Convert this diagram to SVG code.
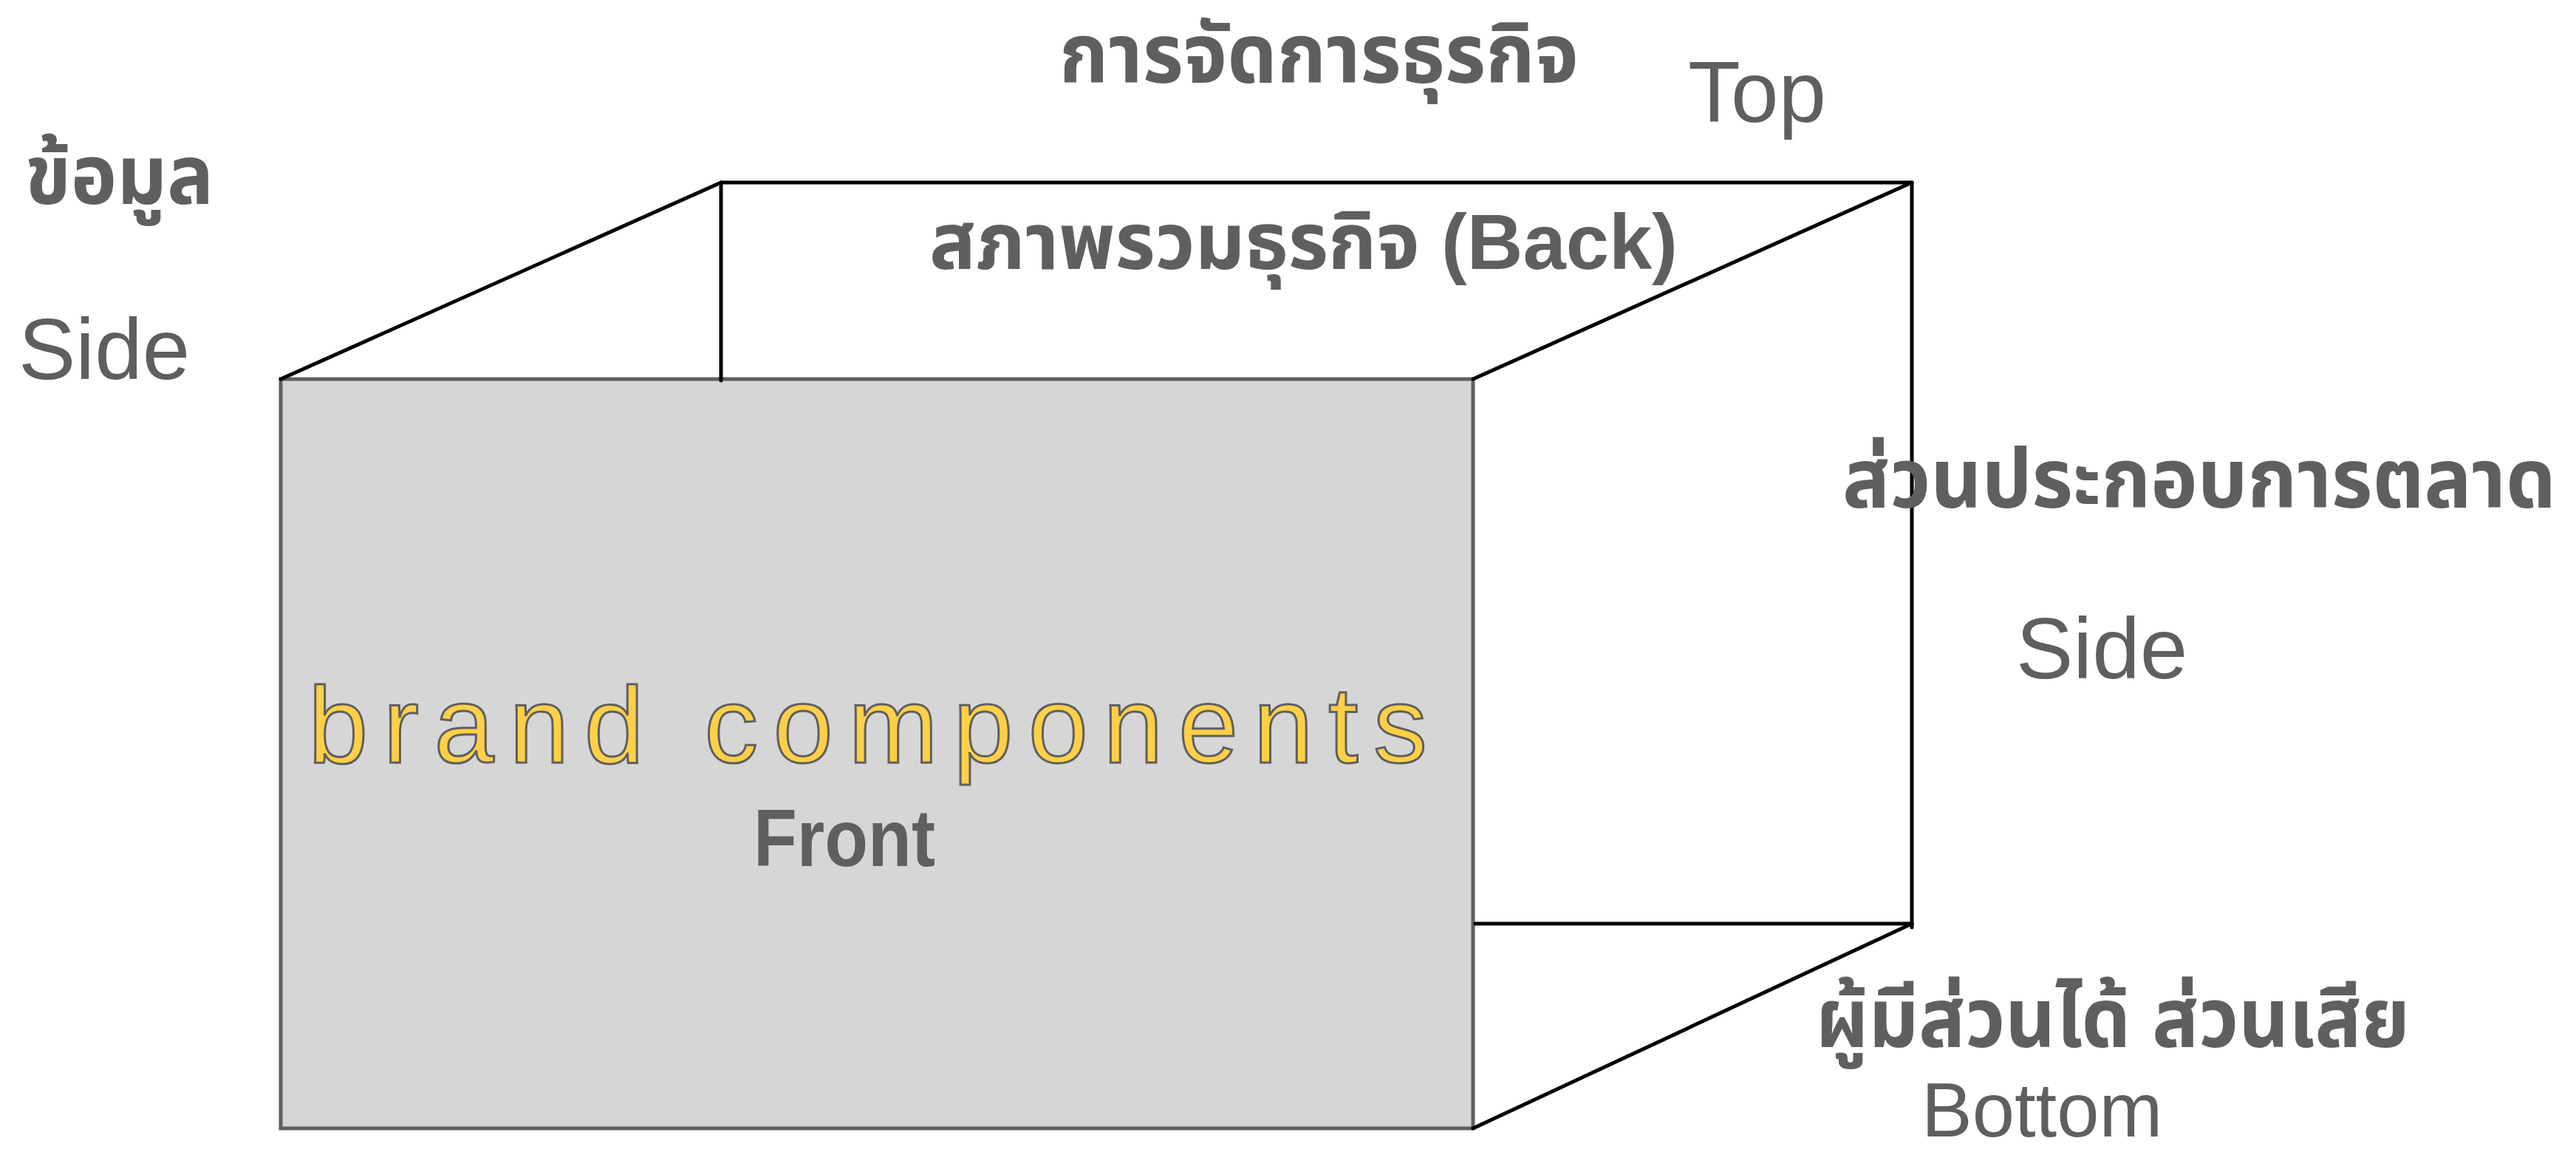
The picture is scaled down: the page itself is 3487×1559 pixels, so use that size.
<svg xmlns="http://www.w3.org/2000/svg" width="3487" height="1559" viewBox="0 0 3487 1559">
<style>
.lbl{font-family:"Liberation Sans","Noto Sans Thai","Noto Sans",Arial,sans-serif;fill:#5f5f5f}
.b{font-weight:bold}
.edge{stroke:#000;stroke-width:5;fill:none;stroke-linecap:round}
</style>
<rect width="3487" height="1559" fill="#fff"/>
<g id="front-face">
<rect x="380" y="513" width="1614" height="1014" fill="#d6d6d6" stroke="#5f5f5f" stroke-width="5"/>
</g>
<g id="connectors">
<line class="edge" x1="380" y1="513" x2="976" y2="247"/>
<line class="edge" x1="976" y1="247" x2="976" y2="515" stroke-width="3.5"/>
<line class="edge" x1="976" y1="247" x2="2588" y2="247"/>
<line class="edge" x1="1994" y1="513" x2="2588" y2="247"/>
<line class="edge" x1="2588" y1="247" x2="2588" y2="1255" stroke-width="3.5"/>
<line class="edge" x1="1997" y1="1250" x2="2588" y2="1250"/>
<line class="edge" x1="1994" y1="1527" x2="2588" y2="1250"/>
</g>
<g id="label-left">
<text class="lbl b" x="34" y="276" font-size="112" textLength="255" lengthAdjust="spacingAndGlyphs">ข้อมูล</text>
<text class="lbl" x="25" y="513" font-size="116">Side</text>
</g>
<g id="label-top">
<text class="lbl b" x="1434" y="112" font-size="112" textLength="703" lengthAdjust="spacingAndGlyphs">การจัดการธุรกิจ</text>
<text class="lbl" x="2285" y="165" font-size="116">Top</text>
</g>
<g id="label-back">
<text class="lbl b" x="1258" y="364" font-size="106" textLength="1013" lengthAdjust="spacingAndGlyphs">สภาพรวมธุรกิจ (Back)</text>
</g>
<g id="label-right">
<text class="lbl b" x="3460" y="687" font-size="112" text-anchor="end" textLength="966" lengthAdjust="spacingAndGlyphs">ส่วนประกอบการตลาด</text>
<text class="lbl" x="2729" y="918" font-size="116">Side</text>
</g>
<g id="label-front">
<text x="417" y="1032" font-family="Liberation Sans, Arial, sans-serif" font-size="146" fill="#ffd047" stroke="#5f5f5f" stroke-width="3" textLength="1515" lengthAdjust="spacing">brand components</text>
<text class="lbl b" x="1020" y="1172" font-size="110" textLength="246" lengthAdjust="spacingAndGlyphs">Front</text>
</g>
<g id="label-bottom">
<text class="lbl b" x="2458" y="1417" font-size="112" textLength="804" lengthAdjust="spacingAndGlyphs">ผู้มีส่วนได้ ส่วนเสีย</text>
<text class="lbl" x="2601" y="1538" font-size="103">Bottom</text>
</g>
</svg>
